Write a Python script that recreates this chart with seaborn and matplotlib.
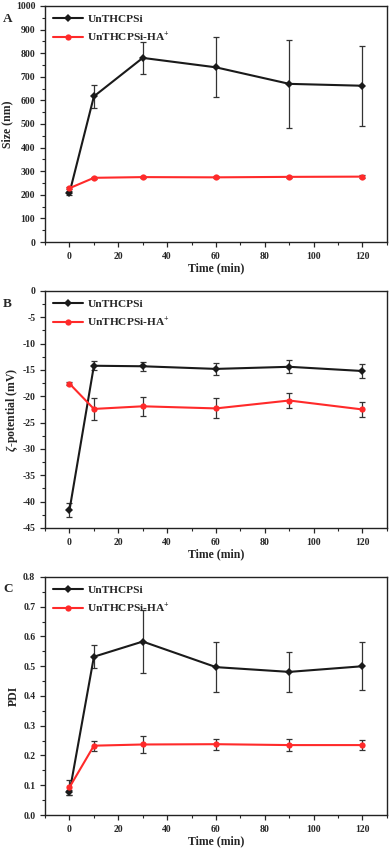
import matplotlib
matplotlib.use("Agg")
import matplotlib.pyplot as plt
from matplotlib.ticker import MultipleLocator, AutoMinorLocator
import seaborn as sns
import pandas as pd

# time points (min)
time = [0, 10, 30, 60, 90, 120]
series = ["UnTHCPSi", "UnTHCPSi-HA$^{\\mathbf{+}}$"]

# panel A: size (nm)
size_bare = [208, 617, 780, 740, 670, 662]
size_bare_err = [8, 48, 68, 127, 185, 170]
size_ha = [228, 272, 275, 274, 276, 277]
size_ha_err = [4, 5, 4, 4, 4, 5]

# panel B: zeta potential (mV)
zeta_bare = [-41.6, -14.2, -14.3, -14.8, -14.4, -15.2]
zeta_bare_err = [1.4, 0.9, 0.9, 1.1, 1.2, 1.3]
zeta_ha = [-17.6, -22.4, -21.9, -22.3, -20.8, -22.5]
zeta_ha_err = [0.3, 2.1, 1.8, 1.9, 1.5, 1.5]

# panel C: PDI
pdi_bare = [0.076, 0.532, 0.583, 0.497, 0.481, 0.500]
pdi_bare_err = [0.008, 0.038, 0.105, 0.083, 0.067, 0.080]
pdi_ha = [0.093, 0.233, 0.237, 0.238, 0.235, 0.235]
pdi_ha_err = [0.025, 0.017, 0.028, 0.019, 0.020, 0.017]

sns.set_style("ticks")
plt.rcParams["font.family"] = ["Liberation Serif", "DejaVu Serif"]
plt.rcParams["font.weight"] = "bold"
plt.rcParams["axes.unicode_minus"] = False
plt.rcParams["mathtext.fontset"] = "custom"
plt.rcParams["mathtext.rm"] = "Liberation Serif:bold"
plt.rcParams["mathtext.bf"] = "Liberation Serif:bold"
plt.rcParams["mathtext.it"] = "Liberation Serif:italic:bold"

colors = ["#1a1a1a", "#ff2a2a"]
markers = ["D", "o"]

fig = plt.figure(figsize=(3.92, 8.51), dpi=100)

panels = [
    ("A", "Size (nm)", size_bare, size_bare_err, size_ha, size_ha_err,
     (0, 1000), 100, [0.115, 0.7156, 0.872, 0.2774], 0.985),
    ("B", "$\\mathit{\\zeta}$-potential (mV)", zeta_bare, zeta_bare_err, zeta_ha, zeta_ha_err,
     (-45, 0), 5, [0.115, 0.3796, 0.872, 0.2785], 0.65),
    ("C", "PDI", pdi_bare, pdi_bare_err, pdi_ha, pdi_ha_err,
     (0, 0.8), 0.1, [0.115, 0.0423, 0.872, 0.2797], 0.315),
]

for letter, ylabel, yb, eb, yh, eh, ylim, ystep, rect, ly in panels:
    ax = fig.add_axes(rect)
    df = pd.DataFrame({
        "time": time + time,
        "value": yb + yh,
        "err": eb + eh,
        "sample": [series[0]] * len(time) + [series[1]] * len(time),
    })
    for s, c in zip(series, colors):
        d = df[df["sample"] == s]
        ax.errorbar(d["time"], d["value"], yerr=d["err"], fmt="none",
                    ecolor="#333333", elinewidth=0.9, capsize=2.5, capthick=0.9, zorder=2)
    sns.lineplot(data=df, x="time", y="value", hue="sample", style="sample",
                 palette=colors, markers=markers, dashes=False, markersize=4.5,
                 markeredgewidth=0, linewidth=1.5, ax=ax, zorder=3)
    ax.set_xlim(-10, 130)
    ax.set_ylim(*ylim)
    ax.xaxis.set_major_locator(MultipleLocator(20))
    ax.xaxis.set_minor_locator(AutoMinorLocator(2))
    ax.yaxis.set_major_locator(MultipleLocator(ystep))
    ax.yaxis.set_minor_locator(AutoMinorLocator(2))
    ax.tick_params(which="major", direction="out", length=3.5, width=0.9, labelsize=7)
    ax.tick_params(which="minor", direction="out", length=2, width=0.8)
    for sp in ax.spines.values():
        sp.set_linewidth(1.0)
        sp.set_color("#222222")
    ax.set_xlabel("Time (min)", fontsize=8.5, fontweight="bold", labelpad=1)
    ax.set_ylabel(ylabel, fontsize=8.5, fontweight="bold", labelpad=2)
    ax.legend(loc="upper left", frameon=False, handlelength=2.6,
              borderaxespad=0.3, labelspacing=0.6, handletextpad=0.4,
              prop={"weight": "bold", "size": 8.2})
    fig.text(0.008, ly, letter, fontsize=9.5, fontweight="bold", va="top", ha="left")

fig.savefig("out.png", dpi=100)
